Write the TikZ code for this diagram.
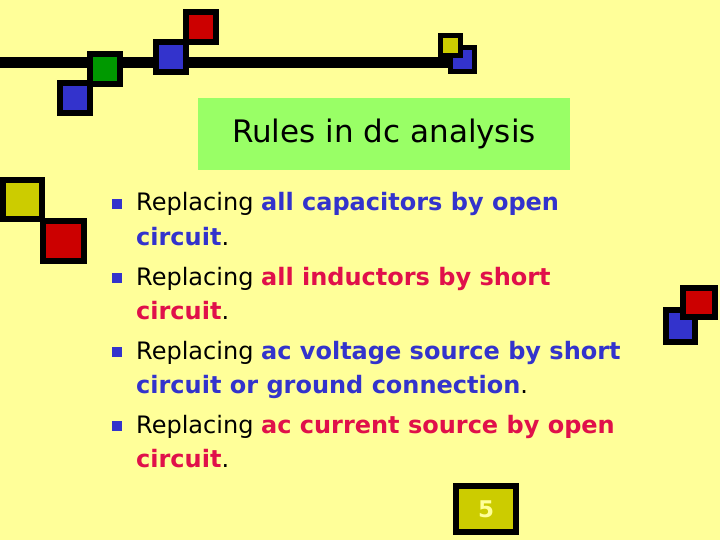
\documentclass[tikz,border=0pt]{standalone}
\usepackage{fontspec}
\setmainfont{DejaVu Sans}
\definecolor{bgyellow}{HTML}{FFFF99}
\definecolor{titlegreen}{HTML}{99FF66}
\definecolor{sqblue}{HTML}{3333CC}
\definecolor{sqred}{HTML}{CC0000}
\definecolor{sqgreen}{HTML}{009900}
\definecolor{sqolive}{HTML}{CCCC00}
\definecolor{txtred}{HTML}{E0104A}
\tikzset{
  sq/.style={draw=black, line width=6pt},
  item/.style={anchor=base west, inner sep=0pt, font=\fontsize{24}{28}\selectfont},
  bullet/.style={fill=sqblue, minimum size=10pt, inner sep=0pt},
}
\newcommand{\hb}[1]{\textbf{\textcolor{sqblue}{#1}}}
\newcommand{\hr}[1]{\textbf{\textcolor{txtred}{#1}}}
\begin{document}
\begin{tikzpicture}[x=1pt, y=-1pt]
    \fill[bgyellow] (0,0) rectangle (720,540);
    \useasboundingbox (0,0) rectangle (720,540);

    % top bar with squares
    \fill[black] (0,57) rectangle (470,68);
    \draw[sq, fill=sqblue] (60,83) rectangle (90,113);
    \draw[sq, fill=sqgreen] (90,54) rectangle (120,84);
    \draw[sq, fill=sqblue] (156,42) rectangle (186,72);
    \draw[sq, fill=sqred] (186,12) rectangle (216,42);
    \draw[sq, fill=sqblue, line width=5pt] (450,48) rectangle (474,72);
    \draw[sq, fill=sqolive, line width=5pt] (440,36) rectangle (460,56);

    % left squares
    \draw[sq, fill=sqolive] (3,180) rectangle (42,219);
    \draw[sq, fill=sqred] (43,221) rectangle (84,261);

    % right squares
    \draw[sq, fill=sqblue] (666,310) rectangle (695,342);
    \draw[sq, fill=sqred] (683,288) rectangle (715,317);

    % title
    \node[fill=titlegreen, minimum width=372pt, minimum height=72pt, inner sep=0pt,
          font=\fontsize{31}{36}\selectfont] (title) at (384,134) {Rules in dc analysis};

    % bullets
    \foreach \y in {204,278,352,426}
        \node[bullet] at (117,\y) {};
    \node[item] (l1) at (136,211) {Replacing \hb{all capacitors by open}};
    \node[item] (l2) at (136,245) {\hb{circuit}.};
    \node[item] (l3) at (136,285) {Replacing \hr{all inductors by short}};
    \node[item] (l4) at (136,319) {\hr{circuit}.};
    \node[item] (l5) at (136,359) {Replacing \hb{ac voltage source by short}};
    \node[item] (l6) at (136,393) {\hb{circuit or ground connection}.};
    \node[item] (l7) at (136,433) {Replacing \hr{ac current source by open}};
    \node[item] (l8) at (136,467) {\hr{circuit}.};

    % page number
    \node[sq, fill=sqolive, minimum width=60pt, minimum height=46pt, inner sep=0pt,
          text=bgyellow, font=\bfseries\fontsize{23}{26}\selectfont] (page) at (486,509) {5};
\end{tikzpicture}
\end{document}
